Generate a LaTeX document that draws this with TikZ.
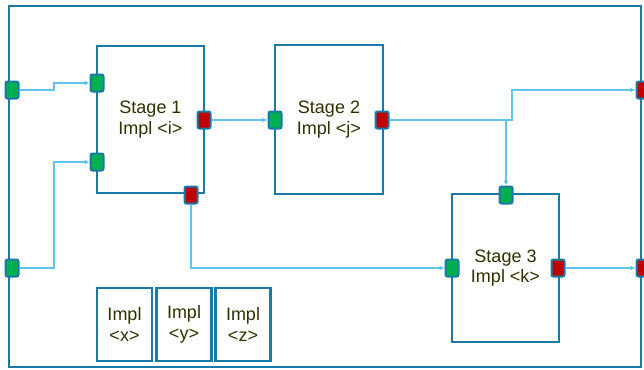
\documentclass[tikz,border=0pt]{standalone}
\usepackage{fontspec}
\setmainfont{Liberation Sans}
\usepackage{tikz}
\usetikzlibrary{positioning,arrows.meta,calc}
\definecolor{boxblue}{RGB}{24,122,166}
\definecolor{wireblue}{RGB}{96,196,238}
\definecolor{tipblue}{RGB}{30,160,220}
\definecolor{portgreen}{RGB}{0,176,80}
\definecolor{portred}{RGB}{192,0,0}
\definecolor{olivetxt}{RGB}{48,48,0}
\tikzset{
  stage/.style ={draw=boxblue, line width=2.3pt, fill=white, align=center,
                 text=olivetxt, font=\fontsize{18}{20.5}\selectfont, inner sep=0pt},
  impl/.style  ={stage, minimum width=55pt, minimum height=73pt},
  pin/.style   ={draw=boxblue, line width=2pt, rounded corners=2pt,
                 minimum width=13pt, minimum height=17pt, inner sep=0pt},
  pin in/.style ={pin, fill=portgreen},
  pin out/.style={pin, fill=portred},
  wire/.style  ={-{Latex[length=5pt,width=5pt,fill=tipblue]}, draw=wireblue, line width=1.1pt},
}
\begin{document}
\begin{tikzpicture}[x=1pt,y=-1pt]
\useasboundingbox (0,0) rectangle (644,369);
\draw[draw=boxblue, line width=2.6pt] (9,6) rectangle (641,367);

% stages
\node[stage, minimum width=107pt, minimum height=147pt] (s1) at (150.5,119.5) {Stage 1\\Impl <i>};
\node[stage, minimum width=108pt, minimum height=149pt] (s2) at (329,119.5) {Stage 2\\Impl <j>};
\node[stage, minimum width=107pt, minimum height=148pt] (s3) at (505.5,268) {Stage 3\\Impl <k>};

% spare implementations
\node[impl] (ix) at (124.5,324.5) {Impl\\<x>};
\node[impl] (iy) at (184,324.5) {Impl\\<y>};
\node[impl] (iz) at (243,324.5) {Impl\\<z>};

% ports
\node[pin in]  (inA)  at (12,90)   {};
\node[pin in]  (inB)  at (12,268)  {};
\node[pin in]  (p1a)  at (97,83)   {};
\node[pin in]  (p1b)  at (97,162)  {};
\node[pin out] (p1o)  at (204,120) {};
\node[pin out] (p1d)  at (191,195) {};
\node[pin in]  (p2i)  at (275,120) {};
\node[pin out] (p2o)  at (382,120) {};
\node[pin in]  (p3t)  at (506,195) {};
\node[pin in]  (p3i)  at (452,268) {};
\node[pin out] (p3o)  at (558,268) {};
\node[pin out] (outA) at (643,90)  {};
\node[pin out] (outB) at (643,268) {};

% wires
\coordinate (br) at (506,120);
\draw[wire] (inA.east) -- (54,90) |- (p1a.west);
\draw[wire] (inB.east) -- (54,268) |- (p1b.west);
\draw[wire] (p1o.east) -- (p2i.west);
\draw[wire] (p1d.south) |- (p3i.west);
\draw[wire] (p2o.east) -- (512,120) |- (outA.west);
\draw[wire] (br) -- (p3t.north);
\draw[wire] (p3o.east) -- (outB.west);
\end{tikzpicture}
\end{document}
